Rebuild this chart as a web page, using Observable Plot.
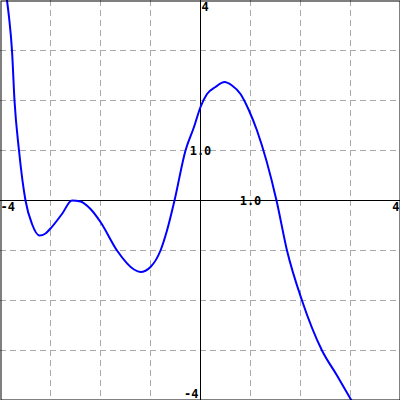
<!DOCTYPE html>
<html>
<head>
<meta charset="utf-8">
<script src="https://cdn.jsdelivr.net/npm/d3@7"></script>
<script src="https://cdn.jsdelivr.net/npm/@observablehq/plot@0.6"></script>
<style>
  html, body { margin: 0; padding: 0; background: #fff; }
  #chart svg { display: block; }
</style>
</head>
<body>
<div id="chart"></div>
<script>
const curveX = [-3.87, -3.83, -3.77, -3.72, -3.63, -3.5, -3.37, -3.22, -3.1, -3.0, -2.77, -2.57, -2.4, -2.2, -2.0, -1.67, -1.33, -1.2, -1.0, -0.8, -0.67, -0.52, -0.3, -0.13, 0.0, 0.13, 0.3, 0.48, 0.63, 0.8, 0.97, 1.13, 1.52, 1.73, 2.03, 2.43, 2.73, 3.02];
const curveY = [4.0, 3.67, 3.0, 2.0, 1.0, 0.0, -0.47, -0.7, -0.66, -0.56, -0.27, 0.0, -0.02, -0.17, -0.43, -1.0, -1.38, -1.43, -1.33, -1.0, -0.6, 0.0, 1.0, 1.47, 1.87, 2.13, 2.27, 2.37, 2.3, 2.13, 1.8, 1.4, 0.0, -1.0, -2.0, -3.0, -3.5, -4.0];
const gridValues = [-3, -2, -1, 1, 2, 3];
const xLabels = ["-4", "1.0", "4"];
const xLabelPos = [-4, 1, 4];
const yLabels = ["4", "1.0", "-4"];
const yLabelPos = [4, 1, -4];

const curve = curveX.map((x, i) => ({x, y: curveY[i]}));
const font = "DejaVu Sans Mono, monospace";

const xl = xLabels.map((t, i) => ({t, x: xLabelPos[i]}));
const yl = yLabels.map((t, i) => ({t, y: yLabelPos[i]}));

const plot = Plot.plot({
  width: 400,
  height: 400,
  margin: 0,
  x: {domain: [-4, 4], axis: null},
  y: {domain: [-4, 4], axis: null},
  style: {fontFamily: font, background: "#fff"},
  marks: [
    Plot.ruleX(gridValues, {stroke: "#aaaaaa", strokeDasharray: "6,4", strokeWidth: 1}),
    Plot.ruleY(gridValues, {stroke: "#aaaaaa", strokeDasharray: "6,4", strokeWidth: 1}),
    Plot.ruleX([0], {stroke: "black", strokeWidth: 1}),
    Plot.ruleY([0], {stroke: "black", strokeWidth: 1}),
    Plot.line(curve, {x: "x", y: "y", stroke: "#0000ff", strokeWidth: 2, curve: "monotone-x", clip: true}),
    // x labels
    Plot.text(xl.filter(d => d.x === -4), {x: "x", y: () => 0, text: "t", textAnchor: "start", dx: 0, dy: 7, fontSize: 12, fontWeight: "bold", fill: "black"}),
    Plot.text(xl.filter(d => d.x === 4), {x: "x", y: () => 0, text: "t", textAnchor: "end", dx: -1, dy: 7, fontSize: 12, fontWeight: "bold", fill: "black"}),
    Plot.text(xl.filter(d => d.x === 1), {x: "x", y: () => 0, text: "t", textAnchor: "middle", dy: 1, fontSize: 12, fontWeight: "bold", fill: "black"}),
    // y labels
    Plot.text(yl.filter(d => d.y === 4), {x: () => 0, y: "y", text: "t", textAnchor: "start", dx: 1, dy: 7, fontSize: 12, fontWeight: "bold", fill: "black"}),
    Plot.text(yl.filter(d => d.y === -4), {x: () => 0, y: "y", text: "t", textAnchor: "end", dx: -2, dy: -6, fontSize: 12, fontWeight: "bold", fill: "black"}),
    Plot.text(yl.filter(d => d.y === 1), {x: () => 0, y: "y", text: "t", textAnchor: "middle", dy: 1, fontSize: 12, fontWeight: "bold", fill: "black"}),
    Plot.frame({stroke: "black", strokeWidth: 1, inset: 0.5})
  ]
});
document.getElementById("chart").appendChild(plot);
</script>
</body>
</html>
